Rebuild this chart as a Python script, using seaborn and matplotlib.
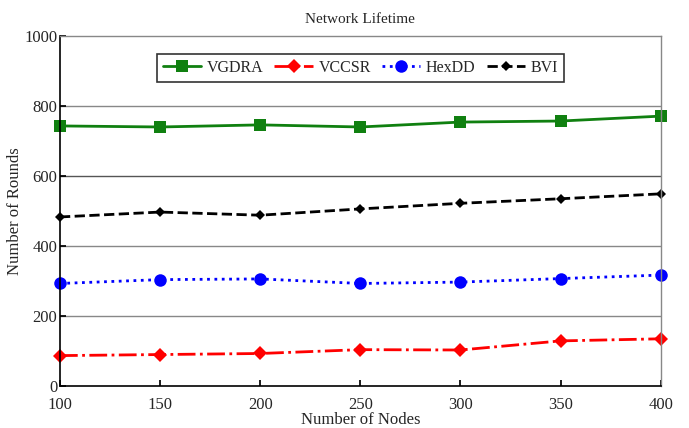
import numpy as np
import pandas as pd
import matplotlib
matplotlib.use("Agg")
import matplotlib.pyplot as plt
import seaborn as sns

# values
nodes = [100, 150, 200, 250, 300, 350, 400]
vgdra = [743, 740, 746, 740, 754, 757, 771]
vccsr = [87, 90, 93, 104, 103, 129, 135]
hexdd = [293, 304, 306, 293, 297, 307, 317]
bvi = [483, 497, 488, 506, 522, 535, 549]

series = ["VGDRA", "VCCSR", "HexDD", "BVI"]
df = pd.DataFrame({
    "Nodes": nodes * 4,
    "Rounds": vgdra + vccsr + hexdd + bvi,
    "Protocol": np.repeat(series, len(nodes)),
})

sns.set_theme(style="white")
plt.rcParams["font.family"] = ["Liberation Serif", "DejaVu Serif"]

fig = plt.figure(figsize=(6.89, 4.28), dpi=100)
ax = fig.add_axes([0.087, 0.098, 0.872, 0.818])

colors = {"VGDRA": "#108010", "VCCSR": "#ff0000", "HexDD": "#0000ff", "BVI": "#000000"}
markers = {"VGDRA": "s", "VCCSR": "D", "HexDD": "o", "BVI": "D"}
msize = {"VGDRA": 9, "VCCSR": 7, "HexDD": 9, "BVI": 5.5}
dashes = {"VGDRA": "-", "VCCSR": "-.", "HexDD": ":", "BVI": "--"}

# grid first so lines sit on top
for yv in [200, 400, 600, 800]:
    ax.axhline(yv, color="#555555" if yv == 600 else "#888888", lw=1, zorder=0)

for name in series:
    sub = df[df["Protocol"] == name]
    sns.lineplot(data=sub, x="Nodes", y="Rounds", ax=ax, color=colors[name],
                 marker=markers[name], markersize=msize[name], markeredgewidth=0,
                 linestyle=dashes[name], linewidth=2, label=name, clip_on=False)

ax.set_xlim(100, 400)
ax.set_ylim(0, 1000)
ax.set_xticks(nodes)
ax.set_yticks([0, 200, 400, 600, 800, 1000])
ax.tick_params(axis="both", labelsize=12, direction="in", length=4, color="black",
               bottom=True, left=True, pad=2)
ax.tick_params(axis="x", pad=8)
ax.set_xlabel("Number of Nodes", fontsize=12, labelpad=-1)
ax.set_ylabel("Number of Rounds", fontsize=12, labelpad=1)
ax.set_title("Network Lifetime", fontsize=11, pad=9)

for side in ["left", "bottom"]:
    ax.spines[side].set_color("black")
    ax.spines[side].set_linewidth(1.2)
for side in ["top", "right"]:
    ax.spines[side].set_color("#888888")
    ax.spines[side].set_linewidth(1)

leg = ax.legend(loc="upper center", bbox_to_anchor=(0.5, 0.97), ncol=4, fontsize=11.5,
                frameon=True, fancybox=False, edgecolor="black", handlelength=2.4,
                columnspacing=0.7, handletextpad=0.35, borderpad=0.35)
leg.get_frame().set_linewidth(1.2)

fig.savefig("out.png", dpi=100)
